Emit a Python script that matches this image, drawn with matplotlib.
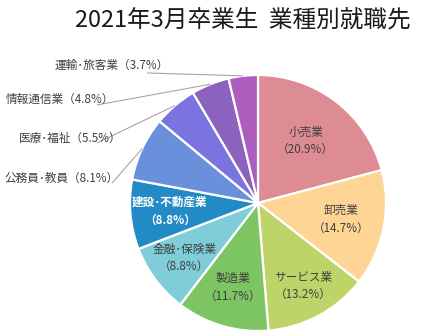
import numpy as np
import matplotlib
matplotlib.use("Agg")
import matplotlib.pyplot as plt

plt.rcParams["font.family"] = ["Noto Sans CJK JP", "DejaVu Sans"]

# 業種別の就職先割合（%）
industries = ["小売業", "卸売業", "サービス業", "製造業", "金融･保険業",
              "建設･不動産業", "公務員･教員", "医療･福祉", "情報通信業", "運輸･旅客業"]
shares = [20.9, 14.7, 13.2, 11.7, 8.8, 8.8, 8.1, 5.5, 4.8, 3.7]
pct_labels = ["20.9%", "14.7%", "13.2%", "11.7%", "8.8%", "8.8%", "8.1%", "5.5%", "4.8%", "3.7%"]
colors = ["#DC8C92", "#FED594", "#BED469", "#7DC462", "#7ECDD9",
          "#228AC4", "#6A8FDB", "#7B74E0", "#8B62BD", "#AC5EBE"]
title = "2021年3月卒業生  業種別就職先"

W, H = 430, 335
fig = plt.figure(figsize=(W / 100, H / 100), dpi=100)
cx, cy, r = 258, 203, 128
ax = fig.add_axes([(cx - r) / W, (H - cy - r) / H, 2 * r / W, 2 * r / H])

wedges, _ = ax.pie(shares, colors=colors, startangle=90, counterclock=False,
                   radius=1.0,
                   wedgeprops=dict(edgecolor="white", linewidth=1.6))
ax.set_xlim(-1, 1)
ax.set_ylim(-1, 1)
ax.set_aspect("equal")
ax.axis("off")

txt_color = "#404040"
fs = 8.4

# labels inside the larger slices
inner_r = [0.61, 0.66, 0.74, 0.69, 0.72, 0.69]
for i, rr in enumerate(inner_r):
    w = wedges[i]
    mid = np.deg2rad((w.theta1 + w.theta2) / 2)
    x, y = rr * np.cos(mid), rr * np.sin(mid)
    white = i == 5
    ax.text(x, y, f"{industries[i]}\n（{pct_labels[i]}）", ha="center", va="center",
            fontsize=fs, color="white" if white else txt_color,
            fontweight="bold" if white else "normal", linespacing=1.55,
            clip_on=False)

# outside labels with leader lines: (text right edge x, y, line start x, y)
outer_pos = {
    6: (-1.086, 0.195, -1.14, 0.156),
    7: (-1.07, 0.508, -1.258, 0.469),
    8: (-1.125, 0.8125, -1.258, 0.766),
    9: (-0.695, 1.078, -0.867, 1.016),
}
for i, (tx, ty, lx, ly) in outer_pos.items():
    w = wedges[i]
    mid = np.deg2rad((w.theta1 + w.theta2) / 2)
    ex, ey = np.cos(mid), np.sin(mid)
    ax.plot([lx, ex], [ly, ey], color="#A6A6A6", lw=0.8, clip_on=False,
            solid_capstyle="butt")
    ax.text(tx, ty, f"{industries[i]}（{pct_labels[i]}）", ha="right", va="center",
            fontsize=fs, color=txt_color, clip_on=False)

fig.text(242.5 / W, 1 - 20 / H, title, ha="center", va="center",
         fontsize=17, color="#1a1a1a")

fig.savefig("out.png", dpi=100, facecolor="white")
